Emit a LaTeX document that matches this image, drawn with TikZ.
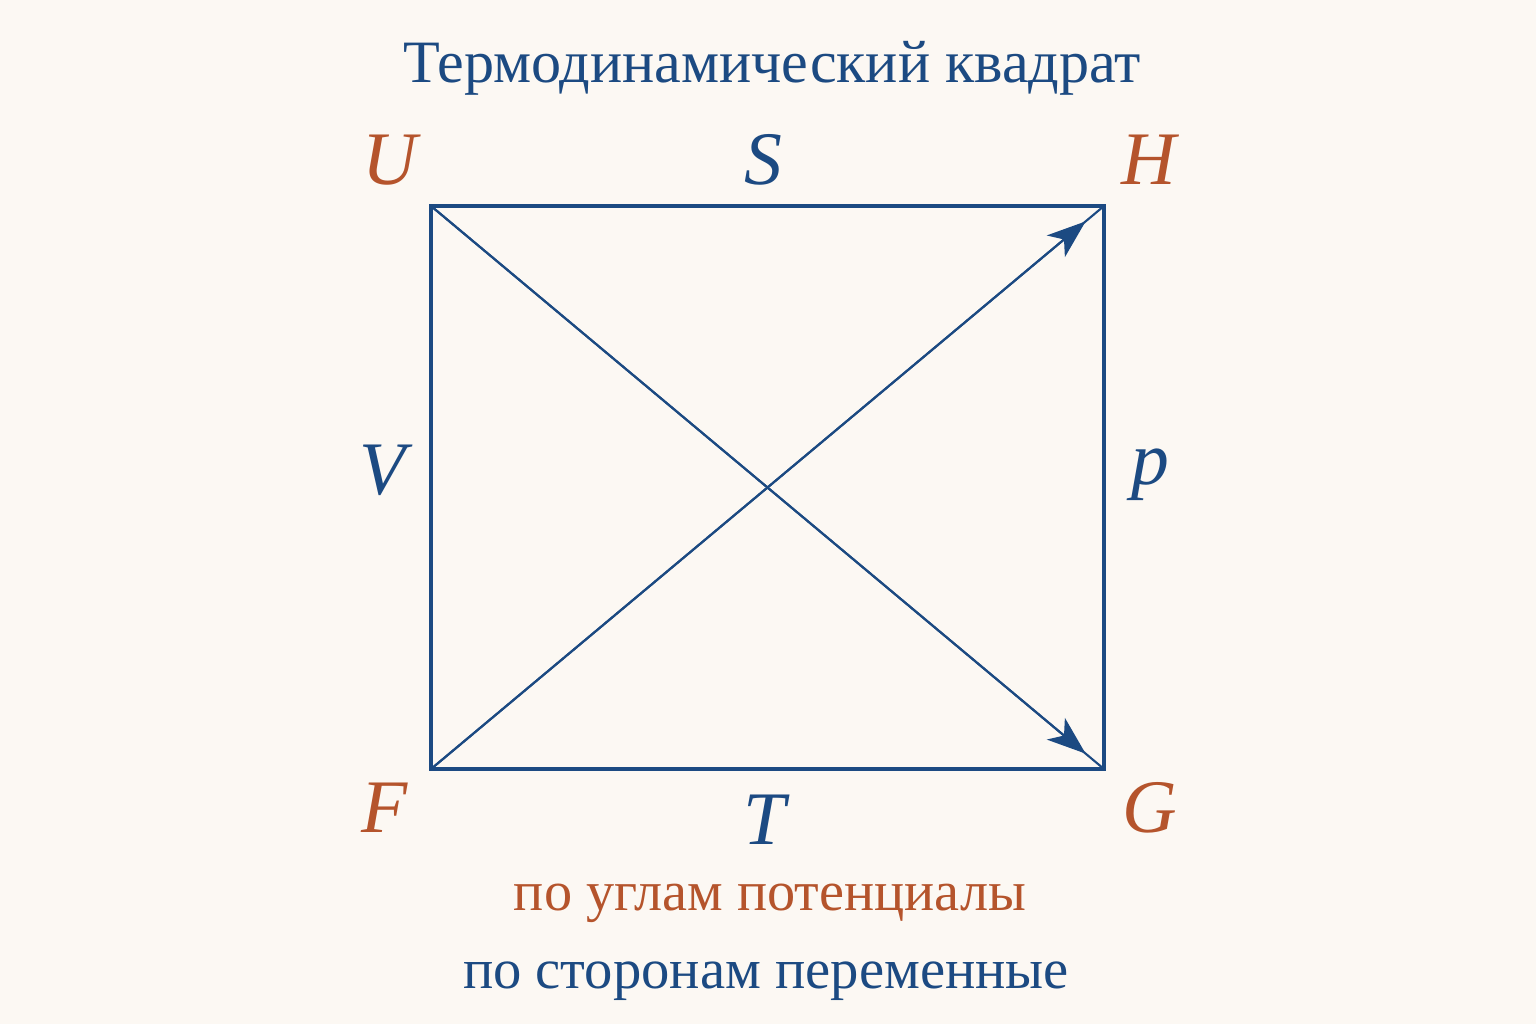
\documentclass[tikz,border=0pt]{standalone}
\usepackage{fontspec}
\setmainfont{Liberation Serif}
\usetikzlibrary{arrows.meta}
\definecolor{sqblue}{HTML}{1C4A82}
\definecolor{sqorange}{HTML}{B5542C}
\definecolor{paper}{HTML}{FCF8F3}
\begin{document}
\begin{tikzpicture}[x=0.01cm,y=-0.01cm]
              \tikzstyle{every node}+=[inner sep=0pt]
              \tikzstyle{pot}=[text=sqorange,font=\fontsize{21.5}{24}\selectfont\itshape]
              \tikzstyle{var}=[text=sqblue,font=\fontsize{21.5}{24}\selectfont\itshape]
              \tikzstyle{diag}=[sqblue, line width=0.6pt]
              \tikzstyle{head}=[-{Stealth[length=11pt,width=8pt,inset=3pt]}, shorten >=0.24cm]
              \fill [paper] (0,0) rectangle (1536,1024);
              \useasboundingbox (0,0) rectangle (1536,1024);
              \coordinate (cu) at (431,206);
              \coordinate (ch) at (1104,206);
              \coordinate (cg) at (1104,769);
              \coordinate (cf) at (431,769);
              \draw [sqblue, line width=1.25pt] (cu) -- (ch) -- (cg) -- (cf) -- cycle;
              \draw [diag] (cf) -- (ch);
              \draw [diag, head] (cf) -- (ch);
              \draw [diag] (cu) -- (cg);
              \draw [diag, head] (cu) -- (cg);
              \node [pot] (U) at (390,160) {U};
              \node [pot] (H) at (1149,160) {H};
              \node [pot] (F) at (385,808) {F};
              \node [pot] (G) at (1150,808) {G};
              \node [var] (S) at (763,160) {S};
              \node [var] (V) at (383,470) {V};
              \node [var] (p) at (1150,475) {p};
              \node [var] (T) at (765,820) {T};
              \node [text=sqblue, font=\fontsize{17.1}{21}\selectfont] (title) at (772,68) {Термодинамический квадрат};
              \node [text=sqorange, font=\fontsize{16}{20}\selectfont] (corners) at (770,903) {по углам потенциалы};
              \node [text=sqblue, font=\fontsize{16.1}{20}\selectfont] (sides) at (766,981) {по сторонам переменные};
            \end{tikzpicture}
\end{document}
